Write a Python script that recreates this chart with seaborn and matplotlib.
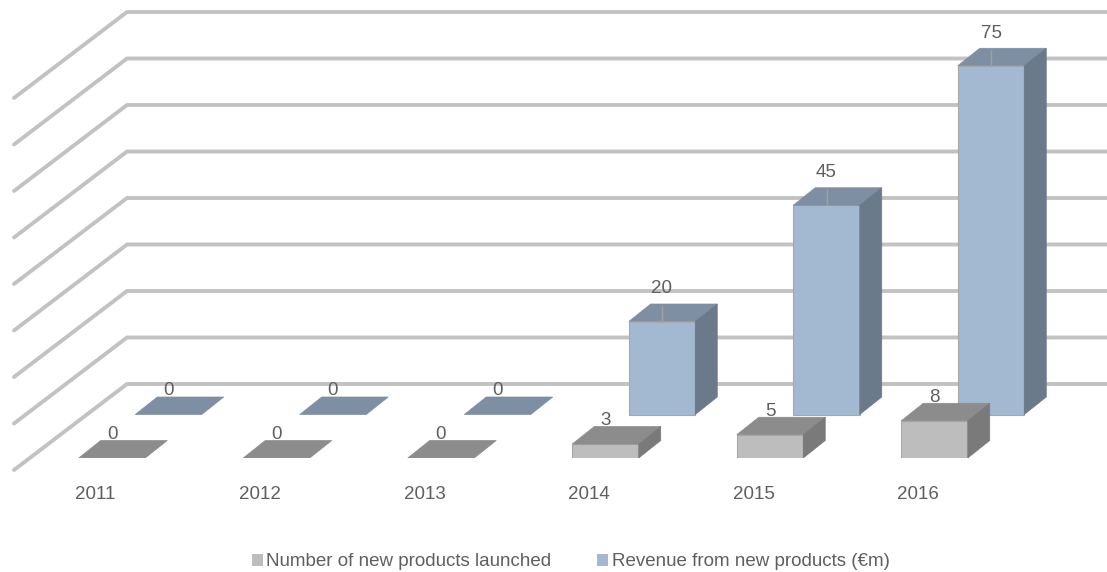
import numpy as np
import pandas as pd
import matplotlib.pyplot as plt
import seaborn as sns
from matplotlib.patches import Polygon

# ── DATA ─────────────────────────────────────────────────────
years = [2011, 2012, 2013, 2014, 2015, 2016]
products = [0, 0, 0, 3, 5, 8]
revenue = [0, 0, 0, 20, 45, 75]
series_names = ['Number of new products launched', 'Revenue from new products (€m)']
grid_values = [0, 10, 20, 30, 40, 50, 60, 70, 80]

# ── FAKE 3D SETUP (x in years, y in value units) ─────────────
PX_X = 164.5   # pixels per year
PX_Y = 4.65    # pixels per value unit
W, H = 1107, 572
BASE_PX = 458  # pixel row of the front baseline

x_left = 2011 - 112 / PX_X
x_right = x_left + W / PX_X

bar_w = 66.5 / PX_X
depth_x = 22 / PX_X       # side/top face offset
depth_y = 17.5 / PX_Y
rev_shift_x = 56.5 / PX_X  # second row sits further back
rev_shift_y = 43.5 / PX_Y
wall_x = x_left + 127 / PX_X
wall_y = (BASE_PX - 384) / PX_Y
floor_dx = 113 / PX_X
floor_dy = 86 / PX_Y

sns.set_style("white")
plt.rcParams['font.family'] = ['Liberation Sans', 'DejaVu Sans']
TEXT = '#5f5f5f'
FONT = 13.5

fig = plt.figure(figsize=(W / 100, H / 100), dpi=100)
ax = fig.add_axes([0, (H - BASE_PX) / H, 1, BASE_PX / H])

# ── WALL GRID ────────────────────────────────────────────────
for v in grid_values:
    y = wall_y + v
    ax.plot([wall_x - floor_dx, wall_x, x_right], [y - floor_dy, y, y],
            color='#c2c2c2', lw=2.8, zorder=1, clip_on=False,
            solid_joinstyle='miter')


def draw_row(x_vals, values, bottom, front, top, side, z):
    df = pd.DataFrame({'x': x_vals, 'value': values})
    sns.barplot(data=df, x='x', y='value', native_scale=True, orient='x',
                width=bar_w, color=front, saturation=1, bottom=bottom,
                edgecolor='#a8a8a8', linewidth=0.8, zorder=z, ax=ax, errorbar=None)
    bars = ax.containers[-1]
    for bar in bars:
        x0, x1 = bar.get_x(), bar.get_x() + bar.get_width()
        y0, y1 = bar.get_y(), bar.get_y() + bar.get_height()
        ax.add_patch(Polygon([(x0, y1), (x1, y1), (x1 + depth_x, y1 + depth_y),
                              (x0 + depth_x, y1 + depth_y)],
                             facecolor=top, edgecolor=top, lw=0.5, zorder=z))
        if y1 > y0:
            ax.add_patch(Polygon([(x1, y0), (x1 + depth_x, y0 + depth_y),
                                  (x1 + depth_x, y1 + depth_y), (x1, y1)],
                                 facecolor=side, edgecolor=side, lw=0.5, zorder=z))
        else:
            bar.set_linewidth(0)  # empty bars only show their top face
    return bars


# ── BARS ─────────────────────────────────────────────────────
rev_x = [yr + rev_shift_x for yr in years]
rev_bars = draw_row(rev_x, revenue, rev_shift_y, '#a3b9d1', '#7e8fa3', '#6a7a8a', 3)
prod_bars = draw_row(years, products, 0, '#bdbdbd', '#8c8c8c', '#7a7a7a', 4)

# ── VALUE LABELS ─────────────────────────────────────────────
for x, v in zip(years, products):
    ax.text(x, v + 5, str(v), ha='center', va='center', fontsize=FONT,
            color=TEXT, zorder=6)

for x, v in zip(rev_x, revenue):
    y_top = v + rev_shift_y
    if v > 0:
        ax.plot([x, x], [y_top, y_top + 16 / PX_Y], color='#a0a0a0', lw=1, zorder=5)
    ax.text(x, y_top + (7.0 if v > 0 else 5.2), str(v), ha='center', va='center',
            fontsize=FONT, color=TEXT, zorder=6)

# ── AXES ─────────────────────────────────────────────────────
ax.set_xlim(x_left, x_right)
ax.set_ylim(0, BASE_PX / PX_Y)
ax.set_xticks([yr - 0.1 for yr in years], [str(yr) for yr in years])
ax.set_yticks([])
ax.set_xlabel('')
ax.set_ylabel('')
ax.tick_params(axis='x', length=0, pad=20, labelsize=FONT, labelcolor=TEXT)
sns.despine(ax=ax, left=True, bottom=True)

ax.legend(handles=[prod_bars[0], rev_bars[0]], labels=series_names, ncol=2,
          loc='center', bbox_to_anchor=(570.5 / W, 1 - 562 / H),
          bbox_transform=fig.transFigure, frameon=False, fontsize=FONT,
          labelcolor=TEXT, handlelength=0.6, handleheight=0.6,
          handletextpad=0.2, columnspacing=2.4, borderpad=0, borderaxespad=0)

plt.savefig('out.png', dpi=100)
plt.close()
